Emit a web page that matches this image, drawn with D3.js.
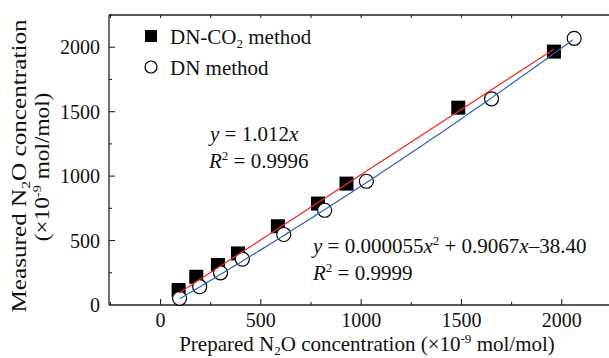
<!DOCTYPE html>
<html lang="en">
<head>
  <meta charset="UTF-8">
  <title>Measured vs prepared N2O concentration</title>
  <script src="https://d3js.org/d3.v7.min.js"></script>
  <style>
    body { margin: 0; background: #fff; }
    svg { display: block; font-family: "Liberation Serif", "Times New Roman", serif; }
    .tick-label { font-size: 20px; fill: #111; }
    .label { font-size: 21px; fill: #111; }
  </style>
</head>
<body>
  <svg width="609" height="358"></svg>

  <script>
    // DN-CO2 method (filled squares)
    const dnco2X = [90, 178, 286, 386, 585, 785, 927, 1484, 1961];
    const dnco2Y = [116, 219, 310, 400, 611, 787, 942, 1531, 1966];
    // DN method (open circles)
    const dnX = [95, 195, 299, 408, 614, 818, 1026, 1650, 2062];
    const dnY = [52, 142, 250, 356, 547, 735, 960, 1600, 2069];

    const xTicks = [0, 500, 1000, 1500, 2000];
    const yTicks = [0, 500, 1000, 1500, 2000];

    // fitted curves given in the figure
    const linFit = x => 1.012 * x;
    const quadFit = x => 0.000055 * x * x + 0.9067 * x - 38.40;

    const svg = d3.select("svg");
    const plotLeft = 109, plotTop = 15, plotBottom = 305;
    const sub = 13;

    const x = d3.scaleLinear().domain([-257, 2250]).range([plotLeft, plotLeft + 2507 * 0.2006]);
    const y = d3.scaleLinear().domain([0, 2250]).range([plotBottom, plotTop]);

    // frame lines
    const frame = svg.append("g").attr("stroke", "#222").attr("stroke-width", 1.3);
    frame.append("line").attr("x1", plotLeft).attr("x2", 612).attr("y1", plotBottom).attr("y2", plotBottom);
    frame.append("line").attr("x1", plotLeft).attr("x2", 612).attr("y1", plotTop).attr("y2", plotTop);
    frame.append("line").attr("x1", plotLeft).attr("x2", plotLeft).attr("y1", plotTop).attr("y2", plotBottom);

    // ticks (inward)
    const minor = d3.range(-250, 2251, 250);
    const ticks = svg.append("g").attr("stroke", "#222").attr("stroke-width", 1.1);
    minor.forEach(v => {
      const major = v % 500 === 0;
      ticks.append("line").attr("x1", x(v)).attr("x2", x(v))
        .attr("y1", plotBottom).attr("y2", plotBottom - (major ? 6 : 3));
      ticks.append("line").attr("x1", x(v)).attr("x2", x(v))
        .attr("y1", plotTop).attr("y2", plotTop + 3);
    });
    d3.range(250, 2251, 250).forEach(v => {
      const major = v % 500 === 0;
      ticks.append("line").attr("x1", plotLeft).attr("x2", plotLeft + (major ? 6 : 3))
        .attr("y1", y(v)).attr("y2", y(v));
    });

    // tick labels
    svg.append("g").selectAll("text").data(xTicks).join("text")
      .attr("class", "tick-label")
      .attr("x", d => x(d)).attr("y", 327)
      .attr("text-anchor", "middle")
      .text(d => d);
    svg.append("g").selectAll("text").data(yTicks).join("text")
      .attr("class", "tick-label")
      .attr("x", 100).attr("y", d => y(d) + 7)
      .attr("text-anchor", "end")
      .text(d => d);

    // markers
    svg.append("g").selectAll("rect").data(dnco2X).join("rect")
      .attr("x", d => x(d) - 7).attr("y", (d, i) => y(dnco2Y[i]) - 7)
      .attr("width", 14).attr("height", 14)
      .attr("fill", "#000");
    svg.append("g").selectAll("circle").data(dnX).join("circle")
      .attr("cx", d => x(d)).attr("cy", (d, i) => y(dnY[i]))
      .attr("r", 7)
      .attr("fill", "#fff").attr("stroke", "#000").attr("stroke-width", 1.2);

    // fit lines
    const redRange = d3.extent(dnco2X);
    const blueRange = d3.extent(dnX);
    const line = d3.line().x(d => x(d[0])).y(d => y(d[1]));
    svg.append("path")
      .attr("d", line(redRange.map(v => [v, linFit(v)])))
      .attr("fill", "none").attr("stroke", "#f22a2a").attr("stroke-width", 1.2);
    svg.append("path")
      .attr("d", line(d3.range(blueRange[0], blueRange[1] + 1, 20).map(v => [v, quadFit(v)])))
      .attr("fill", "none").attr("stroke", "#2f62b8").attr("stroke-width", 1.2);

    // legend
    const legend = svg.append("g");
    legend.append("rect").attr("x", 145).attr("y", 30).attr("width", 12).attr("height", 12).attr("fill", "#000");
    legend.append("circle").attr("cx", 151).attr("cy", 67).attr("r", 6)
      .attr("fill", "#fff").attr("stroke", "#000").attr("stroke-width", 1.2);
    const l1 = legend.append("text").attr("class", "label").attr("x", 170).attr("y", 44);
    l1.append("tspan").text("DN-CO");
    l1.append("tspan").attr("font-size", sub).attr("dy", 4).text("2");
    l1.append("tspan").attr("dy", -4).text(" method");
    legend.append("text").attr("class", "label").attr("x", 170).attr("y", 75).text("DN method");

    // equation annotations
    const eq1 = svg.append("text").attr("class", "label").attr("x", 210).attr("y", 141);
    eq1.append("tspan").attr("font-style", "italic").text("y");
    eq1.append("tspan").text(" = 1.012");
    eq1.append("tspan").attr("font-style", "italic").text("x");

    const r1 = svg.append("text").attr("class", "label").attr("x", 209).attr("y", 168);
    r1.append("tspan").attr("font-style", "italic").text("R");
    r1.append("tspan").attr("font-size", sub).attr("dy", -8).text("2");
    r1.append("tspan").attr("dy", 8).text(" = 0.9996");

    const eq2 = svg.append("text").attr("class", "label").attr("x", 313).attr("y", 253);
    eq2.append("tspan").attr("font-style", "italic").text("y");
    eq2.append("tspan").text(" = 0.000055");
    eq2.append("tspan").attr("font-style", "italic").text("x");
    eq2.append("tspan").attr("font-size", sub).attr("dy", -8).text("2");
    eq2.append("tspan").attr("dy", 8).text(" + 0.9067");
    eq2.append("tspan").attr("font-style", "italic").text("x");
    eq2.append("tspan").text("\u201338.40");

    const r2 = svg.append("text").attr("class", "label").attr("x", 313).attr("y", 280);
    r2.append("tspan").attr("font-style", "italic").text("R");
    r2.append("tspan").attr("font-size", sub).attr("dy", -8).text("2");
    r2.append("tspan").attr("dy", 8).text(" = 0.9999");

    // axis titles
    const xt = svg.append("text").attr("class", "label")
      .attr("x", 367).attr("y", 351).attr("text-anchor", "middle");
    xt.append("tspan").text("Prepared N");
    xt.append("tspan").attr("font-size", sub).attr("dy", 4).text("2");
    xt.append("tspan").attr("dy", -4).text("O concentration (\u00d710");
    xt.append("tspan").attr("font-size", sub).attr("dy", -8).text("-9");
    xt.append("tspan").attr("dy", 8).text(" mol/mol)");

    // y title is a bit stretched along its baseline in the original
    const y1 = svg.append("text").attr("class", "label")
      .attr("transform", "translate(26,166) rotate(-90) scale(1.2,1)")
      .attr("text-anchor", "middle");
    y1.append("tspan").text("Measured N");
    y1.append("tspan").attr("font-size", sub).attr("dy", 4).text("2");
    y1.append("tspan").attr("dy", -4).text("O concentration");
    const y2 = svg.append("text").attr("class", "label")
      .attr("transform", "translate(49,167) rotate(-90) scale(1.11,1)")
      .attr("text-anchor", "middle");
    y2.append("tspan").text("(\u00d710");
    y2.append("tspan").attr("font-size", sub).attr("dy", -8).text("-9");
    y2.append("tspan").attr("dy", 8).text(" mol/mol)");
  </script>
</body>
</html>
